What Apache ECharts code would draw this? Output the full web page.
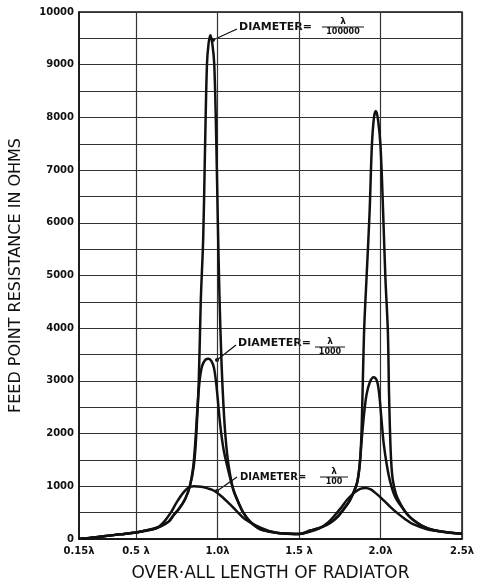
<!DOCTYPE html>
<html>
<head>
<meta charset="utf-8">
<script src="https://cdn.jsdelivr.net/npm/echarts@6/dist/echarts.min.js"></script>
<style>
html,body{margin:0;padding:0;background:#fff;}
#chart{width:489px;height:587px;}
</style>
</head>
<body>
<div id="chart"></div>
<script>
// ---- data ----
// x: overall length in wavelengths, y: feed point resistance in ohms
const thinX = [0.15,0.2,0.3,0.4,0.5,0.55,0.6,0.65,0.7,0.73,0.76,0.8,0.83,0.855,0.87,0.885,0.897,0.912,0.922,0.935,0.945,0.956,0.968,0.98,0.992,1.002,1.012,1.025,1.037,1.05,1.066,1.096,1.13,1.158,1.2,1.26,1.36,1.45,1.5,
  1.57,1.65,1.694,1.74,1.776,1.81,1.835,1.857,1.872,1.882,1.89,1.9,1.915,1.933,1.947,1.96,1.972,1.985,2.0,2.016,2.03,2.045,2.052,2.058,2.065,2.075,2.095,2.12,2.16,2.225,2.29,2.38,2.5];
const thinY = [5,15,50,88,125,155,190,240,330,450,560,750,1000,1400,2000,3000,4500,5700,7200,9000,9400,9560,9400,9000,7600,6000,4600,3300,2500,1900,1440,940,680,500,330,190,120,100,95,
  160,240,310,430,570,720,880,1070,1400,1900,2800,4000,5000,6200,7460,8000,8120,7950,7460,6210,4950,3950,2800,2070,1500,1130,850,680,480,310,200,140,100];

const midX = [0.15,0.2,0.3,0.4,0.5,0.55,0.6,0.65,0.7,0.73,0.76,0.8,0.83,0.85,0.865,0.877,0.89,0.905,0.925,0.945,0.962,0.978,0.99,1.0,1.012,1.025,1.04,1.066,1.096,1.13,1.158,1.2,1.26,1.36,1.45,1.5,
  1.57,1.65,1.7,1.74,1.776,1.81,1.835,1.857,1.872,1.885,1.9,1.915,1.935,1.958,1.978,1.992,2.005,2.02,2.04,2.06,2.09,2.14,2.2,2.29,2.4,2.5];
const midY = [5,15,50,88,125,155,190,240,330,450,560,750,1000,1350,1900,2500,3000,3280,3400,3420,3380,3250,3000,2700,2300,1950,1650,1300,950,680,500,330,190,120,100,95,
  160,240,330,440,580,730,890,1080,1400,1900,2400,2750,2980,3070,3000,2750,2300,1800,1380,1080,800,570,360,200,130,100];

const thickX = [0.15,0.2,0.3,0.4,0.5,0.55,0.6,0.633,0.67,0.713,0.75,0.79,0.82,0.855,0.9,0.94,0.976,1.02,1.076,1.12,1.167,1.24,1.34,1.42,1.5,
  1.57,1.63,1.68,1.714,1.76,1.796,1.84,1.875,1.908,1.94,1.97,2.0,2.05,2.1,2.15,2.2,2.28,2.35,2.43,2.5];
const thickY = [5,15,50,88,125,150,180,215,320,500,700,880,970,1000,990,960,920,820,660,520,380,250,130,100,95,
  140,210,320,430,600,750,880,950,970,940,870,790,640,500,380,280,190,150,120,100];

const xLabelValues = [0.15,0.5,1.0,1.5,2.0,2.5];
const xLabelTexts  = ['0.15λ','0.5 λ','1.0λ','1.5 λ','2.0λ','2.5λ'];
const xGridValues  = [0.5,1.0,1.5,2.0,2.5];
const yLabelValues = [0,1000,2000,3000,4000,5000,6000,7000,8000,9000,10000];

const seriesNames = ['DIAMETER=λ/100000','DIAMETER=λ/1000','DIAMETER=λ/100'];

function zip(xs, ys){ return xs.map((x,i)=>[x, ys[i]]); }

const FONT = '"DejaVu Sans", sans-serif';
const INK = '#111';

const chart = echarts.init(document.getElementById('chart'), null, {renderer:'canvas'});

function lineSeries(name, xs, ys){
  return {
    name: name, type:'line', data: zip(xs, ys), symbol:'none', smooth:0.35,
    lineStyle:{color:INK, width:2.5}, z:5, animation:false
  };
}

function fraction(cx, barY, halfW, num, den, size){
  return [
    {type:'text', x:cx, y:barY-1, style:{text:num, font:'bold '+(size+1)+'px '+FONT, fill:INK, align:'center', verticalAlign:'bottom'}},
    {type:'line', shape:{x1:cx-halfW, y1:barY, x2:cx+halfW, y2:barY}, style:{stroke:INK, lineWidth:1}},
    {type:'text', x:cx, y:barY+1, style:{text:den, font:'bold '+size+'px '+FONT, fill:INK, align:'center', verticalAlign:'top'}}
  ];
}

function label(x1,y1,x2,y2,tx,ty,size){
  return [
    {type:'line', shape:{x1:x1,y1:y1,x2:x2,y2:y2}, style:{stroke:INK, lineWidth:1.3}},
    {type:'circle', shape:{cx:x1, cy:y1, r:2}, style:{fill:INK}},
    {type:'text', x:tx, y:ty, style:{text:'DIAMETER=', font:'bold '+size+'px '+FONT, fill:INK, verticalAlign:'middle'}}
  ];
}

const graphics = [].concat(
  label(213,40,237,29,239,27,11), fraction(343,27,21,'λ','100000',8),
  label(217,360,236,345,238,343,11), fraction(330,347,15,'λ','1000',8),
  label(217,491,237,477,240,477,10), fraction(334,477,14,'λ','100',8)
);

chart.setOption({
  backgroundColor:'#fff',
  animation:false,
  grid:{left:77, right:27, top:12, bottom:44, show:true, borderColor:INK, borderWidth:1.5, backgroundColor:'transparent'},
  xAxis:{
    type:'value', min:0.15, max:2.5,
    name:'OVER·ALL LENGTH OF RADIATOR', nameLocation:'middle', nameGap:26,
    nameTextStyle:{fontFamily:FONT, fontSize:17, color:INK, fontWeight:'normal'},
    axisLine:{show:true, lineStyle:{color:INK, width:1.5}},
    axisTick:{show:false, customValues:xGridValues},
    axisLabel:{customValues:xLabelValues, margin:7, fontFamily:FONT, fontSize:10, fontWeight:'bold', color:INK,
      formatter:function(v){ const i = xLabelValues.findIndex(t=>Math.abs(t-v)<1e-6); return i>=0 ? xLabelTexts[i] : ''; }},
    splitLine:{show:true, lineStyle:{color:'#333', width:1.2}}
  },
  yAxis:{
    type:'value', min:0, max:10000, interval:500,
    name:'FEED POINT RESISTANCE IN OHMS', nameLocation:'middle', nameGap:55, nameRotate:90,
    nameTextStyle:{fontFamily:FONT, fontSize:16, color:INK, fontWeight:'normal'},
    axisLine:{show:true, lineStyle:{color:INK, width:1.5}},
    axisTick:{show:false},
    axisLabel:{customValues:yLabelValues, margin:5, fontFamily:FONT, fontSize:10, fontWeight:'bold', color:INK,
      formatter:function(v){ return String(v); }},
    splitLine:{show:true, lineStyle:{color:'#333', width:1.2}}
  },
  series:[
    lineSeries(seriesNames[0], thinX, thinY),
    lineSeries(seriesNames[1], midX, midY),
    lineSeries(seriesNames[2], thickX, thickY)
  ],
  graphic: graphics
});
</script>
</body>
</html>
